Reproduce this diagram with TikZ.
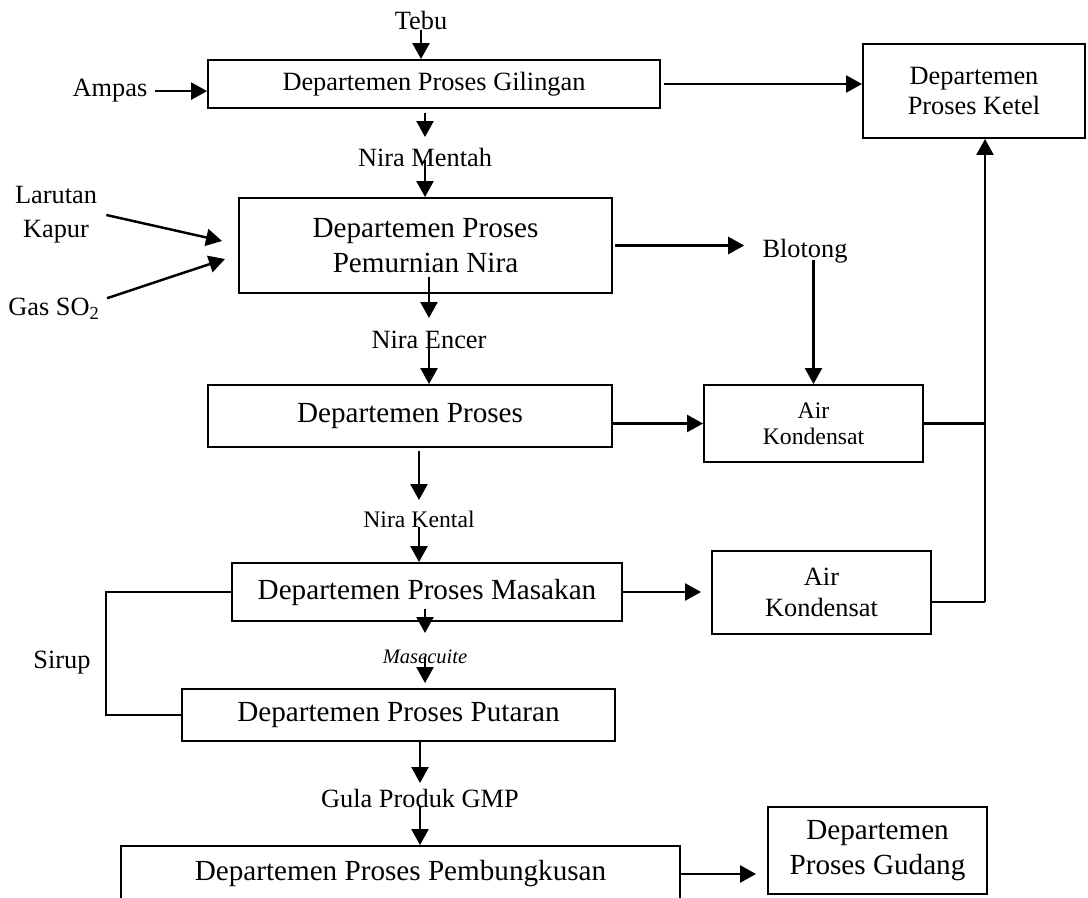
\documentclass[tikz,border=0pt]{standalone}
\usepackage{fontspec}
\setmainfont{Liberation Serif}
\usetikzlibrary{positioning, arrows.meta}
\newcommand\fbig{\fontsize{16.6}{19.6}\selectfont}
\newcommand\fmid{\fontsize{15}{17.4}\selectfont}
\newcommand\fsmall{\fontsize{13.5}{14.8}\selectfont}
\newcommand\ftiny{\fontsize{11.7}{13}\selectfont}

\begin{document}
\begin{tikzpicture}[x=0.02cm, y=-0.02cm,
    box/.style={draw, line width=1.1pt, align=center, inner sep=0pt, font=\fbig},
    lbl/.style={inner sep=0pt, font=\fmid},
    arr/.style={-{Triangle[length=0.32cm, width=0.34cm]}, line width=1.4pt}]
    \useasboundingbox (0,0) rectangle (1088,898);
    % departemen
    \node[box, font=\fmid, minimum width=9.04cm, minimum height=0.96cm] (gil) at (434,84) {Departemen Proses Gilingan};
    \node[box, font=\fmid, minimum width=4.44cm, minimum height=1.88cm] (ketel) at (974,91) {Departemen\\Proses Ketel};
    \node[box, minimum width=7.46cm, minimum height=1.9cm] (murni) at (425.5,245.5) {Departemen Proses\\Pemurnian Nira};
    \node[box, minimum width=8.08cm, minimum height=1.24cm] (evap) at (410,416) {Departemen Proses};
    \node[box, font=\fsmall, minimum width=4.38cm, minimum height=1.54cm] (ak1) at (813.5,423.5) {Air\\Kondensat};
    \node[box, font=\fmid, minimum width=4.38cm, minimum height=1.66cm] (ak2) at (821.5,592.5) {Air\\Kondensat};
    \node[box, minimum width=7.8cm, minimum height=1.16cm] (masak) at (427,592) {Departemen Proses Masakan};
    \node[box, minimum width=8.66cm, minimum height=1.04cm] (putar) at (398.5,715) {Departemen Proses Putaran};
    \node[box, minimum width=11.18cm, minimum height=1.12cm] (bungkus) at (400.5,874) {Departemen Proses Pembungkusan};
    \node[box, minimum width=4.38cm, minimum height=1.74cm] (gudang) at (877.5,850.5) {Departemen\\Proses Gudang};
    % bahan dan hasil
    \node[lbl, anchor=base] (tebu) at (421,30) {Tebu};
    \node[lbl, anchor=base] (ampas) at (110,97) {Ampas};
    \node[lbl, anchor=base] (mentah) at (425,167) {Nira Mentah};
    \node[lbl, align=center] (kapur) at (56,215) {Larutan\\[2pt]Kapur};
    \node[lbl, anchor=base] (gas) at (54,316) {Gas SO\textsubscript{2}};
    \node[lbl, anchor=base] (blotong) at (805,258) {Blotong};
    \node[lbl, anchor=base] (encer) at (429,349) {Nira Encer};
    \node[lbl, anchor=base, font=\fsmall] (kental) at (419,527) {Nira Kental};
    \node[lbl, anchor=base, font=\ftiny\itshape] (masec) at (425,663) {Masecuite};
    \node[lbl, anchor=base] (sirup) at (62,668) {Sirup};
    \node[lbl, anchor=base] (gula) at (420,807) {Gula Produk GMP};
    \coordinate (kapurin) at (222,241);
    \coordinate (gasin) at (225,259);
    \coordinate (riser) at (985,602);
    % aliran utama
    \draw[arr] (tebu.base) -- (tebu.base |- gil.north);
    \draw[arr] ([yshift=-0.08cm]gil.south -| mentah.base) -- ([yshift=0.6cm]mentah.base);
    \draw[arr] ([yshift=0.14cm]mentah.base) -- (mentah.base |- murni.north);
    \draw[arr] ([yshift=0.34cm]murni.south -| encer.base) -- ([yshift=0.62cm]encer.base);
    \draw[arr] ([yshift=0.2cm]encer.base) -- (encer.base |- evap.north);
    \draw[arr] ([yshift=-0.06cm]evap.south -| kental.base) -- ([yshift=0.54cm]kental.base);
    \draw[arr] (kental.base) -- (kental.base |- masak.north);
    \draw[arr] ([yshift=0.26cm]masak.south -| masec.base) -- ([yshift=0.6cm]masec.base);
    \draw[arr] ([yshift=0.12cm]masec.base) -- ([yshift=0.1cm]masec.base |- putar.north);
    \draw[arr] (putar.south -| gula.base) -- ([yshift=0.48cm]gula.base);
    \draw[arr] (gula.base) -- (gula.base |- bungkus.north);
    % masuk dari samping
    \draw[arr] ([xshift=0.14cm]ampas.east) -- (ampas.east -| gil.west);
    \draw[arr] ([xshift=0.18cm]kapur.east) -- (kapurin);
    \draw[arr] ([xshift=0.14cm]gas.north east) -- (gasin);
    % keluar ke kanan
    \draw[arr] ([xshift=0.06cm]gil.east) -- (gil.east -| ketel.west);
    \draw[arr] ([xshift=0.04cm]murni.east) -- ([xshift=-0.36cm]murni.east -| blotong.west);
    \draw[arr] ([yshift=-0.04cm]blotong.base -| ak1.north) -- (ak1.north);
    \draw[arr] (evap.east |- ak1.west) -- (ak1.west);
    \draw[arr] (masak.east) -- ([xshift=-0.2cm]masak.east -| ak2.west);
    \draw[arr] (bungkus.east) -- ([xshift=-0.22cm]bungkus.east -| gudang.west);
    % air kondensat ke ketel
    \draw[line width=1.4pt] (ak1.east) -- (ak1.east -| riser);
    \draw[line width=1.4pt] (ak2.east |- riser) -- (riser);
    \draw[arr] (riser) -- (riser |- ketel.south);
    % sirup kembali
    \draw[line width=1.4pt] (masak.west) -- ++(-125,0) |- (putar.west);
\end{tikzpicture}
\end{document}
